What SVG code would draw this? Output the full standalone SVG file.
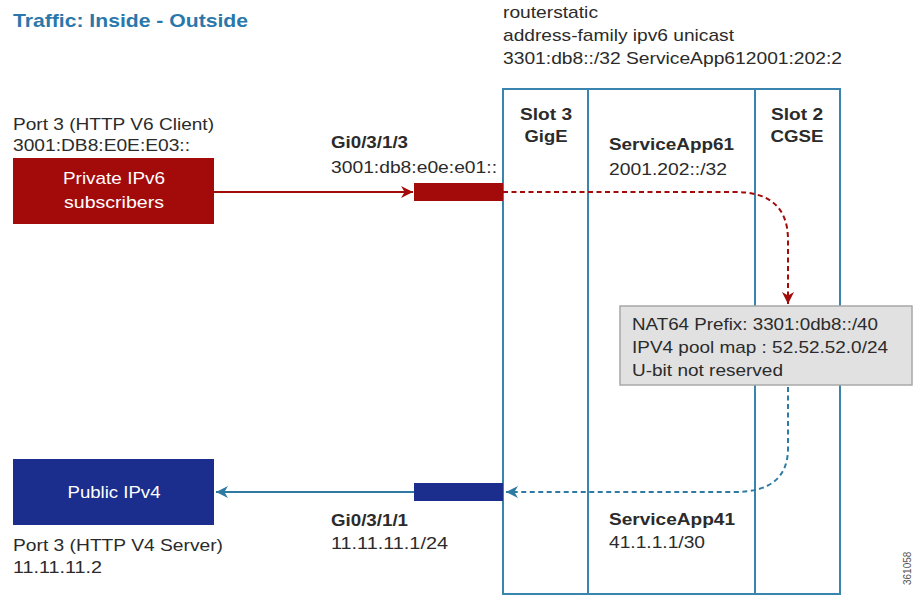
<svg xmlns="http://www.w3.org/2000/svg" width="914" height="597" viewBox="0 0 914 597">
<style>
text{font-family:"Liberation Sans",Arial,sans-serif;font-size:17px;fill:#2b2b2b}
.b{font-weight:bold;font-size:16px}
.w{fill:#ffffff}
.c{text-anchor:middle}
.slot{fill:none;stroke:#3a84b0;stroke-width:2}
.red{stroke:#a30b0b;stroke-width:2;fill:none}
.blue{stroke:#2f7aa3;stroke-width:2;fill:none}
.dash{stroke-dasharray:5 3.5}
</style>
<defs>
<marker id="ar" viewBox="0 0 10 10" refX="10" refY="5" markerWidth="6" markerHeight="6" orient="auto" markerUnits="strokeWidth"><path d="M0,0 L10,5 L0,10 L3,5 z" fill="#a30b0b"/></marker>
<marker id="ab" viewBox="0 0 10 10" refX="10" refY="5" markerWidth="6" markerHeight="6" orient="auto" markerUnits="strokeWidth"><path d="M0,0 L10,5 L0,10 L3,5 z" fill="#2f7aa3"/></marker>
</defs>
<rect width="914" height="597" fill="#ffffff"/>
<text x="13" y="27" style="font-weight:bold;font-size:19px;fill:#2a78ab" textLength="235" lengthAdjust="spacingAndGlyphs">Traffic: Inside - Outside</text>

<g id="routerstatic">
<text x="503" y="18" textLength="95" lengthAdjust="spacingAndGlyphs">routerstatic</text>
<text x="503" y="41" textLength="231" lengthAdjust="spacingAndGlyphs">address-family ipv6 unicast</text>
<text x="503" y="64" textLength="339" lengthAdjust="spacingAndGlyphs">3301:db8::/32 ServiceApp612001:202:2</text>
</g>

<g id="chassis">
<rect x="503" y="89" width="337" height="505" class="slot"/>
<line x1="588" y1="89" x2="588" y2="594" class="slot"/>
<line x1="755" y1="89" x2="755" y2="594" class="slot"/>
<text x="546" y="120" class="b c" textLength="52" lengthAdjust="spacingAndGlyphs">Slot 3</text>
<text x="546" y="142" class="b c" textLength="43" lengthAdjust="spacingAndGlyphs">GigE</text>
<text x="797" y="120" class="b c" textLength="52" lengthAdjust="spacingAndGlyphs">Slot 2</text>
<text x="797" y="142" class="b c" textLength="53" lengthAdjust="spacingAndGlyphs">CGSE</text>
<text x="609" y="150" class="b" textLength="125" lengthAdjust="spacingAndGlyphs">ServiceApp61</text>
<text x="609" y="175" textLength="118" lengthAdjust="spacingAndGlyphs">2001.202::/32</text>
<text x="609" y="525" class="b" textLength="126" lengthAdjust="spacingAndGlyphs">ServiceApp41</text>
<text x="609" y="548" textLength="96" lengthAdjust="spacingAndGlyphs">41.1.1.1/30</text>
</g>

<g id="private">
<text x="13" y="130" textLength="201" lengthAdjust="spacingAndGlyphs">Port 3 (HTTP V6 Client)</text>
<text x="13" y="151" textLength="177" lengthAdjust="spacingAndGlyphs">3001:DB8:E0E:E03::</text>
<rect x="13" y="158" width="201" height="66" fill="#a30b0b"/>
<text x="114" y="184" class="w c" textLength="102" lengthAdjust="spacingAndGlyphs">Private IPv6</text>
<text x="114" y="208" class="w c" textLength="100" lengthAdjust="spacingAndGlyphs">subscribers</text>
</g>

<g id="public">
<rect x="13" y="459" width="201" height="66" fill="#1b2e8e"/>
<text x="114" y="498" class="w c" textLength="93" lengthAdjust="spacingAndGlyphs">Public IPv4</text>
<text x="13" y="551" textLength="210" lengthAdjust="spacingAndGlyphs">Port 3 (HTTP V4 Server)</text>
<text x="13" y="573" textLength="89" lengthAdjust="spacingAndGlyphs">11.11.11.2</text>
</g>

<g id="gi3">
<text x="331" y="148" class="b" textLength="77" lengthAdjust="spacingAndGlyphs">Gi0/3/1/3</text>
<text x="331" y="173" textLength="166" lengthAdjust="spacingAndGlyphs">3001:db8:e0e:e01::</text>
<rect x="414" y="183" width="89" height="18" fill="#a30b0b"/>
</g>

<g id="gi1">
<rect x="414" y="483" width="89" height="18" fill="#1b2e8e"/>
<text x="331" y="526" class="b" textLength="77" lengthAdjust="spacingAndGlyphs">Gi0/3/1/1</text>
<text x="331" y="549" textLength="117" lengthAdjust="spacingAndGlyphs">11.11.11.1/24</text>
</g>

<g id="nat64">
<rect x="620" y="306" width="292" height="79" fill="#e1e1e1" stroke="#a8a8a8" stroke-width="1.5"/>
<text x="632" y="330" textLength="246" lengthAdjust="spacingAndGlyphs">NAT64 Prefix: 3301:0db8::/40</text>
<text x="632" y="353" textLength="256" lengthAdjust="spacingAndGlyphs">IPV4 pool map : 52.52.52.0/24</text>
<text x="632" y="376" textLength="151" lengthAdjust="spacingAndGlyphs">U-bit not reserved</text>
</g>

<g id="connectors">
<line x1="214" y1="192" x2="413" y2="192" class="red" marker-end="url(#ar)"/>
<path d="M503,192 H735 Q788,192 788,240 V304" class="red dash" marker-end="url(#ar)"/>
<line x1="414" y1="492" x2="216" y2="492" class="blue" marker-end="url(#ab)"/>
<path d="M788,387 V448 Q788,492 735,492 H506" class="blue dash" marker-end="url(#ab)"/>
</g>

<text x="0" y="0" transform="translate(911,585) rotate(-90)" style="font-size:10px;fill:#555">361058</text>
</svg>
